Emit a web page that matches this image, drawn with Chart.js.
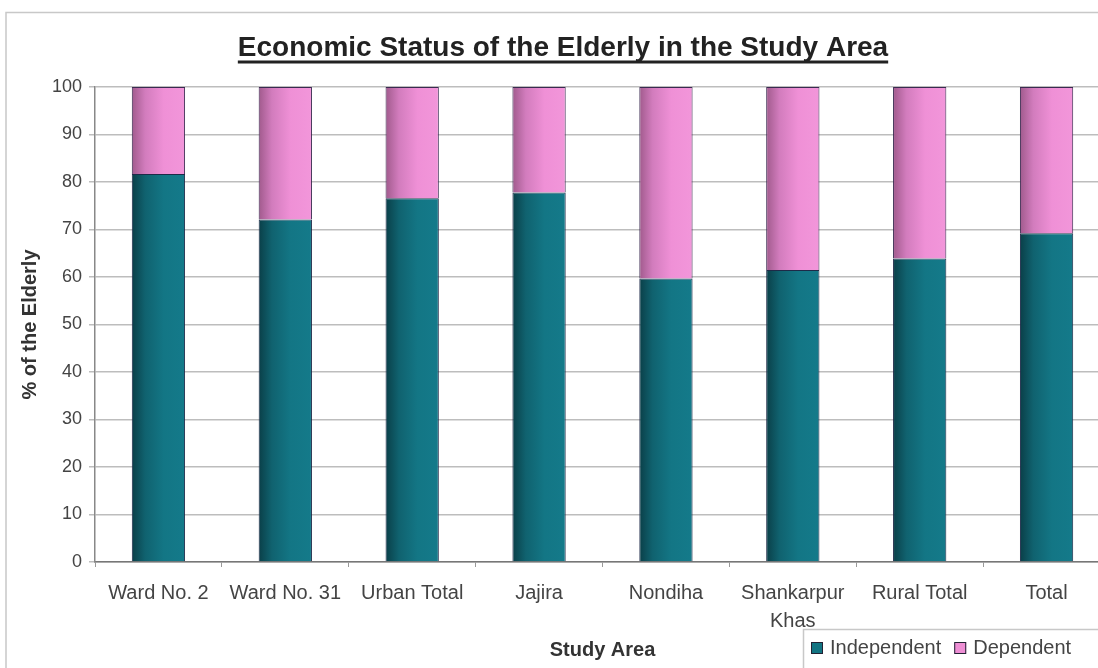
<!DOCTYPE html>
<html>
<head>
<meta charset="utf-8">
<script src="https://cdn.jsdelivr.net/npm/chart.js@4/dist/chart.umd.min.js"></script>
<style>
html,body{margin:0;padding:0;background:#fff;overflow:hidden;}
#wrap{width:1098px;height:668px;overflow:hidden;position:relative;}
canvas{display:block;}
</style>
</head>
<body>
<div id="wrap"><canvas id="c" width="1112" height="668"></canvas></div>
<script>
const chartTitle = 'Economic Status of the Elderly in the Study Area';
const xAxisTitle = 'Study Area';
const yAxisTitle = '% of the Elderly';
const categories = ['Ward No. 2', 'Ward No. 31', 'Urban Total', 'Jajira', 'Nondiha', ['Shankarpur', 'Khas'], 'Rural Total', 'Total'];
const independent = [81.7, 72.1, 76.6, 77.8, 59.7, 61.5, 63.9, 69.2];
const dependent = [18.3, 27.9, 23.4, 22.2, 40.3, 38.5, 36.1, 30.8];
const seriesNames = ['Independent', 'Dependent'];
const yTicks = [0, 10, 20, 30, 40, 50, 60, 70, 80, 90, 100];

const TEAL = '#127482';
const PINK = '#ee8ed4';
const TEAL_STOPS = ['#0a3f48', '#10626f', '#137685', '#147a8a'];
const PINK_STOPS = ['#a05a8c', '#d27cbd', '#ef90d6', '#f296da'];
const FONT = '"Liberation Sans", Arial, sans-serif';
const BAR_PCT = 0.42;

function barFill(stops, flat) {
  return (ctx) => {
    const chart = ctx.chart;
    const xs = chart.scales && chart.scales.x;
    if (!chart.chartArea || !xs || ctx.dataIndex === undefined) return flat;
    const cx = xs.getPixelForValue(ctx.dataIndex);
    const half = (xs.width / categories.length) * BAR_PCT / 2;
    if (!isFinite(cx)) return flat;
    const g = chart.ctx.createLinearGradient(cx - half, 0, cx + half, 0);
    g.addColorStop(0, stops[0]);
    g.addColorStop(0.25, stops[1]);
    g.addColorStop(0.6, stops[2]);
    g.addColorStop(1, stops[3]);
    return g;
  };
}

const decor = {
  id: 'decor',
  beforeDraw(chart) {
    const ctx = chart.ctx;
    ctx.save();
    ctx.fillStyle = '#fff';
    ctx.fillRect(0, 0, chart.width, chart.height);
    ctx.strokeStyle = '#c8c8c8';
    ctx.lineWidth = 1.5;
    ctx.beginPath();
    ctx.moveTo(6, 668);
    ctx.lineTo(6, 12.5);
    ctx.lineTo(chart.width, 12.5);
    ctx.stroke();
    ctx.restore();
  },
  afterDraw(chart) {
    const ctx = chart.ctx;
    ctx.save();
    // title
    ctx.font = 'bold 28px "Liberation Sans Narrow", "Arial Narrow", ' + FONT;
    ctx.fillStyle = '#222';
    ctx.textAlign = 'center';
    ctx.textBaseline = 'alphabetic';
    const tx = 563, ty = 56;
    ctx.fillText(chartTitle, tx, ty);
    const w = ctx.measureText(chartTitle).width;
    ctx.strokeStyle = '#222';
    ctx.lineWidth = 3;
    ctx.beginPath();
    ctx.moveTo(tx - w / 2, ty + 6);
    ctx.lineTo(tx + w / 2, ty + 6);
    ctx.stroke();
    // legend
    ctx.strokeStyle = '#c8c8c8';
    ctx.lineWidth = 1.5;
    ctx.strokeRect(803.5, 629.5, 320, 60);
    ctx.font = '20px ' + FONT;
    ctx.textAlign = 'left';
    ctx.textBaseline = 'middle';
    const ly = 648;
    const cols = [TEAL, PINK];
    let x = 811;
    chart.data.datasets.forEach((ds, i) => {
      ctx.fillStyle = cols[i];
      ctx.fillRect(x, ly - 6, 12, 12);
      ctx.strokeStyle = '#223';
      ctx.lineWidth = 1;
      ctx.strokeRect(x + 0.5, ly - 5.5, 11, 11);
      ctx.fillStyle = '#444';
      ctx.fillText(ds.label, x + 19, ly);
      x += 19 + ctx.measureText(ds.label).width + 13;
    });
    ctx.restore();
  }
};

new Chart(document.getElementById('c'), {
  type: 'bar',
  data: {
    labels: categories,
    datasets: [
      { label: seriesNames[0], data: independent, backgroundColor: barFill(TEAL_STOPS, TEAL), borderColor: '#1e2a48', borderWidth: 1 },
      { label: seriesNames[1], data: dependent, backgroundColor: barFill(PINK_STOPS, PINK), borderColor: '#3a2a50', borderWidth: 1 }
    ]
  },
  options: {
    responsive: false,
    animation: false,
    layout: { padding: { top: 87, right: 2, left: 0, bottom: 0 } },
    datasets: { bar: { barPercentage: BAR_PCT, categoryPercentage: 1.0 } },
    plugins: { legend: { display: false }, title: { display: false }, tooltip: { enabled: false } },
    scales: {
      x: {
        stacked: true,
        grid: { display: true, drawOnChartArea: false, drawTicks: true, tickLength: 5, color: '#999', lineWidth: 1 },
        border: { display: true, color: '#777', width: 1.5 },
        ticks: { color: '#444', font: { family: FONT, size: 20, lineHeight: 1.4 }, padding: 12, maxRotation: 0, autoSkip: false },
        title: { display: true, text: xAxisTitle, color: '#333', font: { family: FONT, size: 20, weight: 'bold' }, padding: { top: 0, bottom: 6 } },
        afterFit(s) { s.height = 106; }
      },
      y: {
        stacked: true,
        min: 0, max: 100,
        afterBuildTicks(s) { s.ticks = yTicks.map(v => ({ value: v })); },
        grid: { color: '#bdbdbd', lineWidth: 1.5, tickLength: 6, drawTicks: true },
        border: { display: true, color: '#888', width: 1.5 },
        ticks: { color: '#444', font: { family: FONT, size: 18 }, padding: 7 },
        title: { display: true, text: yAxisTitle, color: '#333', font: { family: FONT, size: 20, weight: 'bold' }, padding: { top: 18, bottom: 0 } },
        afterFit(s) { s.width = 95; }
      }
    }
  },
  plugins: [decor]
});
</script>
</body>
</html>
